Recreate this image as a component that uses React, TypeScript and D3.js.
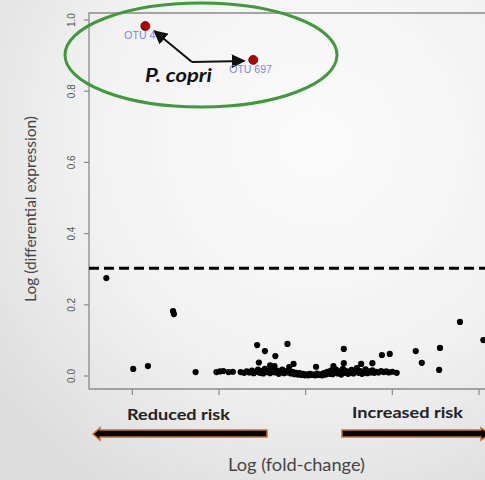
import React from 'react';
import * as d3 from 'd3';

// axis ticks (x ticks carry no labels in the original)
const xTicks = [-2, -1, 0, 1, 2];
const yTicks = [0, 0.2, 0.4, 0.6, 0.8, 1.0];
const yTickLabels = ['0.0', '0.2', '0.4', '0.6', '0.8', '1.0'];

// significance cut-off
const threshold = 0.303;

// the two P. copri OTUs
const highlighted = [
  { label: 'OTU 4', x: -1.85, y: 0.983 },
  { label: 'OTU 697', x: -0.605, y: 0.888 },
];

// isolated points
const outerPoints = [
  [-2.3, 0.275], [-1.53, 0.182], [-1.52, 0.174],
  [-1.99, 0.02], [-1.82, 0.028], [-1.27, 0.011],
  [-0.56, 0.087], [-0.47, 0.07], [-0.35, 0.056], [-0.21, 0.09],
  [0.44, 0.076], [0.88, 0.059], [0.97, 0.062], [1.27, 0.07],
  [1.34, 0.037], [1.55, 0.079], [1.54, 0.017], [1.78, 0.152], [2.05, 0.101],
];

// points just above the main band
const midPoints = [
  [-0.54, 0.038], [-0.41, 0.03], [-0.36, 0.028], [-0.14, 0.034], [0.12, 0.026],
  [0.32, 0.028], [0.44, 0.036], [0.64, 0.034], [0.77, 0.036],
];

// the dense band near zero
const bandPoints = [
  [-1.03, 0.011], [-0.99, 0.013], [-0.95, 0.014], [-0.89, 0.011], [-0.84, 0.012],
  [-0.75, 0.011], [-0.71, 0.009], [-0.68, 0.013], [-0.65, 0.01], [-0.62, 0.015], [-0.6, 0.008],
  [-0.57, 0.012], [-0.55, 0.018], [-0.53, 0.009], [-0.51, 0.014], [-0.49, 0.007], [-0.47, 0.02], [-0.45, 0.011],
  [-0.43, 0.016], [-0.41, 0.008], [-0.39, 0.013], [-0.37, 0.022], [-0.35, 0.01], [-0.33, 0.015], [-0.31, 0.006],
  [-0.29, 0.012], [-0.27, 0.018], [-0.25, 0.008], [-0.23, 0.014], [-0.21, 0.01], [-0.19, 0.025], [-0.17, 0.007],
  [-0.15, 0.012], [-0.13, 0.005], [-0.11, 0.009], [-0.09, 0.004], [-0.07, 0.008], [-0.05, 0.003], [-0.03, 0.006],
  [-0.01, 0.002], [0.01, 0.005], [0.03, 0.002], [0.05, 0.006], [0.07, 0.003], [0.09, 0.004], [0.11, 0.002],
  [0.13, 0.007], [0.15, 0.003], [0.17, 0.005], [0.19, 0.002], [0.21, 0.008], [0.23, 0.004], [0.25, 0.012],
  [0.27, 0.006], [0.29, 0.015], [0.31, 0.005], [0.33, 0.01], [0.35, 0.018], [0.37, 0.007], [0.39, 0.013],
  [0.41, 0.004], [0.43, 0.02], [0.45, 0.009], [0.47, 0.014], [0.49, 0.006], [0.51, 0.011], [0.53, 0.017],
  [0.55, 0.007], [0.57, 0.012], [0.59, 0.022], [0.61, 0.009], [0.63, 0.014], [0.65, 0.006], [0.67, 0.01],
  [0.69, 0.019], [0.71, 0.008], [0.73, 0.013], [0.75, 0.01], [0.77, 0.016], [0.79, 0.009], [0.81, 0.012],
  [0.84, 0.01], [0.87, 0.014], [0.9, 0.011], [0.93, 0.013], [0.96, 0.01], [1.0, 0.012], [1.05, 0.009],
];

const W = 485;
const H = 480;
const frame = { left: 89, right: 492, top: 13, bottom: 389 };

const calibri = 'Lato, "Open Sans", sans-serif';
const arial = '"Liberation Sans", Arial, sans-serif';

export default function App() {
  const x = d3.scaleLinear().domain([-2.5, 2.15]).range([frame.left, frame.right]);
  const y = d3.scaleLinear().domain([-0.0365, 1.0197]).range([frame.bottom, frame.top]);

  const allPoints = [...bandPoints, ...midPoints, ...outerPoints];

  const p4 = highlighted[0];
  const p697 = highlighted[1];
  const hub = [192, 62];

  return (
    <svg width={W} height={H} style={{ position: 'absolute', left: 0, top: 0 }}>
      <defs>
        <radialGradient id="bg" cx="0.65" cy="0.3" r="0.85">
          <stop offset="0" stopColor="#fbfbfb" />
          <stop offset="0.55" stopColor="#f2f2f2" />
          <stop offset="1" stopColor="#dcdcdc" />
        </radialGradient>
        <marker id="ah" viewBox="0 0 10 10" refX="9" refY="5" markerWidth="7" markerHeight="7" orient="auto">
          <path d="M0,0 L10,5 L0,10 Z" fill="#111" />
        </marker>
      </defs>
      <rect width={W} height={H} fill="url(#bg)" />

      {/* frame */}
      <path
        d={`M${frame.right},${frame.top}H${frame.left}V${frame.bottom}H${frame.right}`}
        fill="none"
        stroke="#8a8a8a"
        strokeWidth={1.3}
      />

      {/* y axis */}
      {yTicks.map((t, i) => (
        <g key={t}>
          <line x1={frame.left - 5} x2={frame.left} y1={y(t)} y2={y(t)} stroke="#8a8a8a" strokeWidth={1.2} />
          <text
            transform={`translate(${frame.left - 17},${y(t)}) rotate(-90)`}
            textAnchor="middle"
            dominantBaseline="middle"
            fontFamily={arial}
            fontSize={10}
            fill="#555"
          >
            {yTickLabels[i]}
          </text>
        </g>
      ))}

      {/* x axis */}
      {xTicks.map((t) => (
        <line key={t} x1={x(t)} x2={x(t)} y1={frame.bottom} y2={frame.bottom + 6} stroke="#8a8a8a" strokeWidth={1.2} />
      ))}

      {/* threshold */}
      <line
        x1={frame.left}
        x2={frame.right}
        y1={y(threshold)}
        y2={y(threshold)}
        stroke="#000"
        strokeWidth={3}
        strokeDasharray="10,5"
      />

      {/* points */}
      {allPoints.map(([px, py], i) => (
        <circle key={i} cx={x(px)} cy={y(py)} r={3.1} fill="#000" />
      ))}

      {/* highlighted OTUs */}
      <ellipse cx={201} cy={55} rx={136} ry={52} fill="none" stroke="#3f9a3a" strokeWidth={3} />
      <line x1={hub[0]} y1={hub[1]} x2={x(p4.x) + 9} y2={y(p4.y) + 5} stroke="#111" strokeWidth={2} markerEnd="url(#ah)" />
      <line x1={hub[0]} y1={hub[1]} x2={x(p697.x) - 9} y2={y(p697.y) + 1} stroke="#111" strokeWidth={2} markerEnd="url(#ah)" />
      {highlighted.map((d) => (
        <g key={d.label}>
          <circle cx={x(d.x)} cy={y(d.y)} r={4.5} fill="#b30000" stroke="#500" strokeWidth={0.8} />
          <text
            x={x(d.x) - (d.label === 'OTU 4' ? 21 : 24)}
            y={y(d.y) + 13}
            fontFamily={arial}
            fontSize={10.5}
            fill="#7b86e2"
          >
            {d.label}
          </text>
        </g>
      ))}
      <text x={145} y={82} fontFamily={calibri} fontSize={18} fontWeight="bold" fontStyle="italic" fill="#111" textLength={67} lengthAdjust="spacingAndGlyphs">
        P. copri
      </text>

      {/* risk annotations */}
      <text x={127} y={420} fontFamily={calibri} fontSize={16} fontWeight="bold" fill="#222" textLength={103} lengthAdjust="spacingAndGlyphs">
        Reduced risk
      </text>
      <text x={352} y={418} fontFamily={calibri} fontSize={16} fontWeight="bold" fill="#222" textLength={111} lengthAdjust="spacingAndGlyphs">
        Increased risk
      </text>
      <path
        d="M267,430 L100,430 L100,428 L93,434 L100,440 L100,437 L267,437 Z"
        fill="#000"
        stroke="#c8702e"
        strokeWidth={1.5}
      />
      <path
        d="M342,430 L481,430 L481,428 L490,434 L481,440 L481,437 L342,437 Z"
        fill="#000"
        stroke="#c8702e"
        strokeWidth={1.5}
      />

      {/* axis titles */}
      <text x={228} y={471} fontFamily={calibri} fontSize={17} fill="#444" textLength={137} lengthAdjust="spacingAndGlyphs">
        Log (fold-change)
      </text>
      <text
        transform={`translate(36,209) rotate(-90)`}
        textAnchor="middle"
        fontFamily={calibri}
        fontSize={15.5}
        fill="#444"
      >
        Log (differential expression)
      </text>
    </svg>
  );
}
